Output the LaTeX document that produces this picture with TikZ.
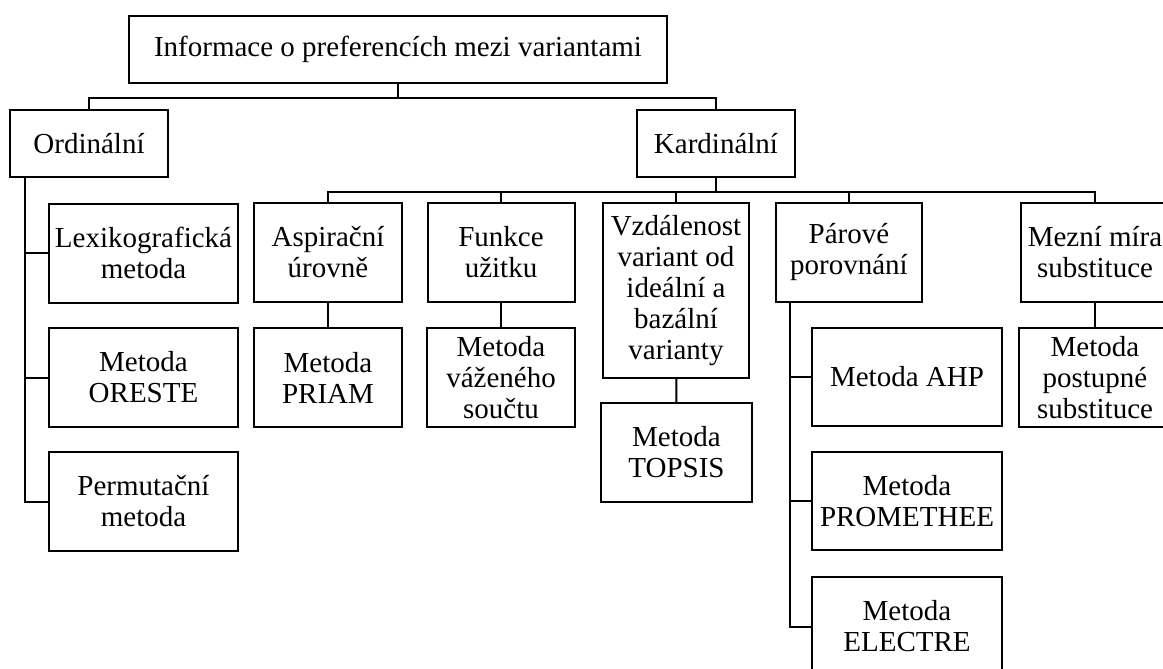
\documentclass[tikz,border=0pt]{standalone}
\usepackage{fontspec}
\setmainfont{Liberation Serif}
\usepackage{tikz}

\begin{document}
\begin{tikzpicture}[x=1pt, y=-1pt, line width=2pt,
    box/.style={draw, rectangle, align=center, inner sep=2pt, minimum height=99pt},
    font=\fontsize{29}{31}\selectfont]
    \useasboundingbox (0,0) rectangle (1163,669);
    \clip (0,0) rectangle (1163,669);

    \node[box, minimum width=538pt, minimum height=67pt] (info) at (398,49.5) {Informace o preferencích mezi variantami};
    \node[box, minimum width=158pt, minimum height=67pt] (ord) at (89,143.5) {Ordinální};
    \node[box, minimum width=158pt, minimum height=67pt] (kard) at (716,143.5) {Kardinální};

    \node[box, minimum width=189pt] (lex) at (143.5,253) {Lexikografická\\metoda};
    \node[box, minimum width=189pt] (oreste) at (143.5,377.5) {Metoda\\ORESTE};
    \node[box, minimum width=189pt] (perm) at (143.5,501.5) {Permutační\\metoda};

    \node[box, minimum width=148pt] (asp) at (328,252.5) {Aspirační\\úrovně};
    \node[box, minimum width=148pt] (priam) at (328,377.5) {Metoda\\PRIAM};
    \node[box, minimum width=147pt] (fun) at (501,252.5) {Funkce\\užitku};
    \node[box, minimum width=148pt] (vaz) at (501,377.5) {Metoda\\váženého\\součtu};
    \node[box, minimum width=146pt, minimum height=175pt] (vzd) at (676,290.5) {Vzdálenost\\variant od\\ideální a\\bazální\\varianty};
    \node[box, minimum width=151pt] (topsis) at (676.5,452.5) {Metoda\\TOPSIS};
    \node[box, minimum width=146pt] (par) at (849,252.5) {Párové\\porovnání};
    \node[box, minimum width=190pt, minimum height=98pt] (ahp) at (907,377) {Metoda AHP};
    \node[box, minimum width=190pt, minimum height=98pt] (prom) at (907,501) {Metoda\\PROMETHEE};
    \node[box, minimum width=190pt] (elec) at (907,626.5) {Metoda\\ELECTRE};
    \node[box, minimum width=148pt] (mez) at (1095,252.5) {Mezní míra\\substituce};
    \node[box, minimum width=152pt] (post) at (1095,377.5) {Metoda\\postupné\\substituce};

    \draw (info.south) -- ++(0,14) -| (ord.north);
    \draw (info.south) -- ++(0,14) -| (kard.north);

    \draw ([xshift=16pt]ord.south west) |- (lex.west);
    \draw ([xshift=16pt]ord.south west) |- (oreste.west);
    \draw ([xshift=16pt]ord.south west) |- (perm.west);

    \draw (kard.south) -- ++(0,14) -| (asp.north);
    \draw (kard.south) -- ++(0,14) -| (fun.north);
    \draw (kard.south) -- ++(0,14) -| (vzd.north);
    \draw (kard.south) -- ++(0,14) -| (par.north);
    \draw (kard.south) -- ++(0,14) -| (mez.north);

    \draw (asp) -- (priam);
    \draw (fun) -- (vaz);
    \draw (vzd) -- (topsis);
    \draw (mez) -- (post);

    \draw ([xshift=15pt]par.south west) |- (ahp.west);
    \draw ([xshift=15pt]par.south west) |- (prom.west);
    \draw ([xshift=15pt]par.south west) |- (elec.west);
\end{tikzpicture}
\end{document}
